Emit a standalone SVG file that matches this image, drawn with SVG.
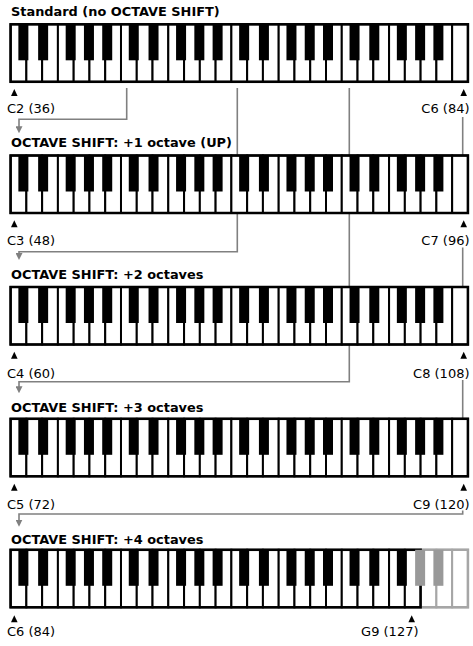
<svg xmlns="http://www.w3.org/2000/svg" width="473" height="646" viewBox="0 0 473 646">
<style>
.w{fill:#fff;stroke:#000;stroke-width:2}
.b{fill:#000}
.frame{fill:none;stroke:#000;stroke-width:2.5}
.gw{fill:#fff;stroke:#a6a6a6;stroke-width:2}
.gb{fill:#999}
.gframe{fill:none;stroke:#a6a6a6;stroke-width:2.5}
.title{font-family:"DejaVu Sans",sans-serif;font-weight:bold;font-size:12.9px;fill:#000}
.lbl{font-family:"DejaVu Sans",sans-serif;font-size:13px;fill:#000}
.tri{fill:#000}
.conn{fill:none;stroke:#808080;stroke-width:1.6}
</style>
<defs>
<marker id="ah" viewBox="0 0 10 10" refX="7.2" refY="5" markerWidth="7" markerHeight="7" markerUnits="userSpaceOnUse" orient="auto"><path d="M0,0 L10,5 L0,10 z" fill="#808080"/></marker>
<g id="oct">
<rect class="w" x="0" y="0" width="15.77" height="57.5"/>
<rect class="w" x="15.77" y="0" width="15.77" height="57.5"/>
<rect class="w" x="31.54" y="0" width="15.77" height="57.5"/>
<rect class="w" x="47.31" y="0" width="15.77" height="57.5"/>
<rect class="w" x="63.08" y="0" width="15.77" height="57.5"/>
<rect class="w" x="78.85" y="0" width="15.77" height="57.5"/>
<rect class="w" x="94.62" y="0" width="15.77" height="57.5"/>
<rect class="b" x="7.77" y="0" width="10" height="36"/>
<rect class="b" x="27.54" y="0" width="10" height="36"/>
<rect class="b" x="55.08" y="0" width="10" height="36"/>
<rect class="b" x="73.35" y="0" width="10" height="36"/>
<rect class="b" x="91.62" y="0" width="10" height="36"/>
</g>
<g id="kb">
<use href="#oct"/>
<use href="#oct" x="110.39"/>
<use href="#oct" x="220.78"/>
<use href="#oct" x="331.17"/>
<rect class="w" x="441.56" y="0" width="15.77" height="57.5"/>
<rect class="frame" x="0" y="0" width="457.33" height="57.5"/>
</g>
</defs>

<g id="connectors">
<path class="conn" d="M126.7,88 V119.3 H19 V131.3" marker-end="url(#ah)"/>
<path class="conn" d="M237.3,88 V251.7 H19 V258" marker-end="url(#ah)"/>
<path class="conn" d="M349.3,88 V381.7 H19 V391.3" marker-end="url(#ah)"/>
<path class="conn" d="M462.7,117 V155.5"/>
<path class="conn" d="M462.7,247.5 V287"/>
<path class="conn" d="M462.7,380 V418.8"/>
<path class="conn" d="M462.7,510.5 V514 H19 V524.7" marker-end="url(#ah)"/>
</g>

<g id="standard">
<text class="title" x="11" y="15.8">Standard (no OCTAVE SHIFT)</text>
<use href="#kb" transform="translate(10.6,24.3)"/>
<polygon class="tri" points="14.3,89 11,96 17.6,96"/>
<text class="lbl" x="7" y="113.3">C2 (36)</text>
<polygon class="tri" points="463.7,89 460.4,96 467,96"/>
<text class="lbl" x="469.5" y="113.3" text-anchor="end">C6 (84)</text>
</g>

<g id="shift1">
<text class="title" x="11" y="147">OCTAVE SHIFT: +1 octave (UP)</text>
<use href="#kb" transform="translate(10.6,155.5)"/>
<polygon class="tri" points="14.3,220.3 11,227.3 17.6,227.3"/>
<text class="lbl" x="7" y="245">C3 (48)</text>
<polygon class="tri" points="463.7,220.3 460.4,227.3 467,227.3"/>
<text class="lbl" x="469.5" y="245" text-anchor="end">C7 (96)</text>
</g>

<g id="shift2">
<text class="title" x="11" y="279">OCTAVE SHIFT: +2 octaves</text>
<use href="#kb" transform="translate(10.6,287)"/>
<polygon class="tri" points="14.3,351.8 11,358.8 17.6,358.8"/>
<text class="lbl" x="7" y="377.7">C4 (60)</text>
<polygon class="tri" points="463.7,351.8 460.4,358.8 467,358.8"/>
<text class="lbl" x="469.5" y="377.7" text-anchor="end">C8 (108)</text>
</g>

<g id="shift3">
<text class="title" x="11" y="411.5">OCTAVE SHIFT: +3 octaves</text>
<use href="#kb" transform="translate(10.6,418.8)"/>
<polygon class="tri" points="14.3,483.8 11,490.8 17.6,490.8"/>
<text class="lbl" x="7" y="508.5">C5 (72)</text>
<polygon class="tri" points="463.7,483.8 460.4,490.8 467,490.8"/>
<text class="lbl" x="469.5" y="508.5" text-anchor="end">C9 (120)</text>
</g>

<g id="shift4">
<text class="title" x="11" y="543.5">OCTAVE SHIFT: +4 octaves</text>
<g transform="translate(10.6,549.8)">
<use href="#oct"/>
<use href="#oct" x="110.39"/>
<use href="#oct" x="220.78"/>
<rect class="w" x="331.17" y="0" width="15.77" height="57.5"/>
<rect class="w" x="346.94" y="0" width="15.77" height="57.5"/>
<rect class="w" x="362.71" y="0" width="15.77" height="57.5"/>
<rect class="w" x="378.48" y="0" width="15.77" height="57.5"/>
<rect class="w" x="394.25" y="0" width="15.77" height="57.5"/>
<rect class="gw" x="410.02" y="0" width="15.77" height="57.5"/>
<rect class="gw" x="425.79" y="0" width="15.77" height="57.5"/>
<rect class="gw" x="441.56" y="0" width="15.77" height="57.5"/>
<path class="gframe" d="M410.02,0 H457.33 V57.5 H410.02"/>
<rect class="frame" x="0" y="0" width="410.02" height="57.5"/>
<rect class="b" x="338.94" y="0" width="10" height="36"/>
<rect class="b" x="358.71" y="0" width="10" height="36"/>
<rect class="b" x="386.25" y="0" width="10" height="36"/>
<rect class="gb" x="404.52" y="0" width="10" height="36"/>
<rect class="gb" x="422.79" y="0" width="10" height="36"/>
</g>
<polygon class="tri" points="14.3,615.3 11,622.3 17.6,622.3"/>
<text class="lbl" x="7" y="636">C6 (84)</text>
<polygon class="tri" points="411.7,615.3 408.4,622.3 415,622.3"/>
<text class="lbl" x="418.5" y="636" text-anchor="end">G9 (127)</text>
</g>
</svg>
